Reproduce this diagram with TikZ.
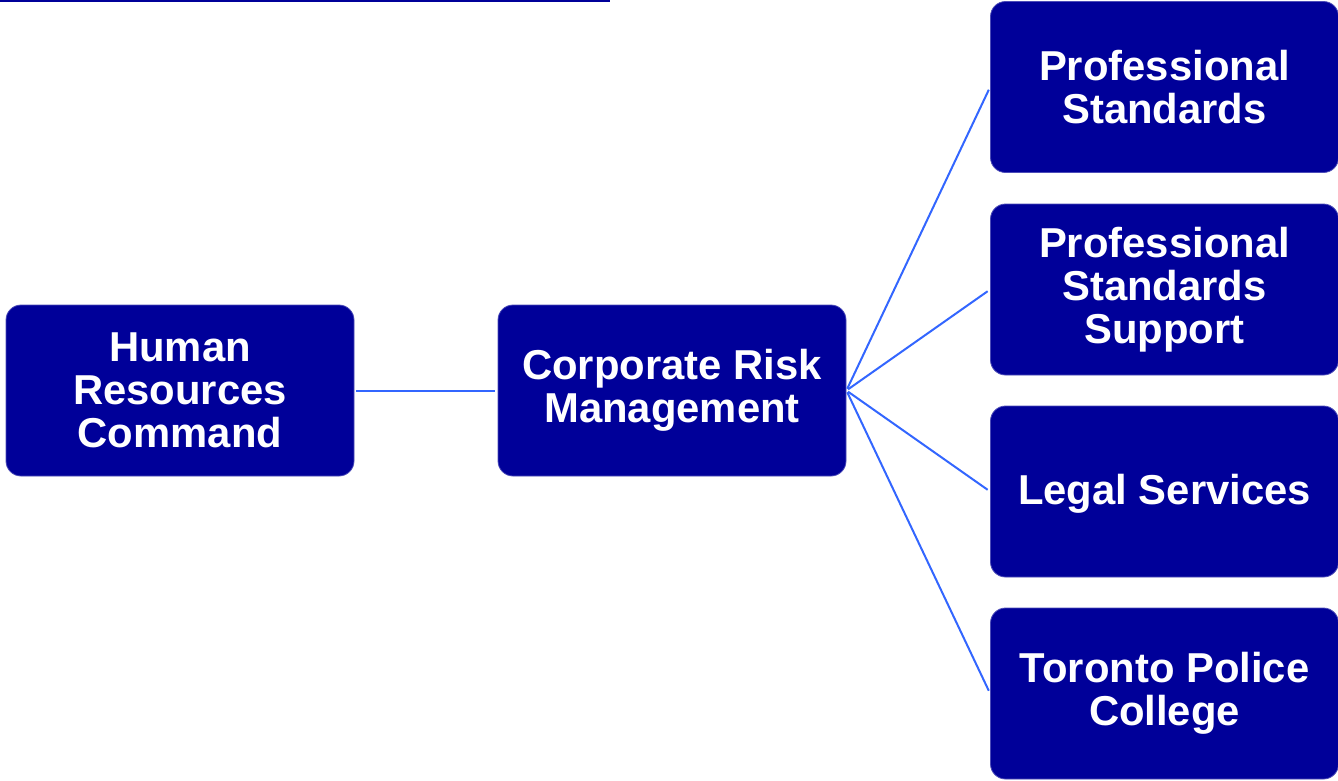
\documentclass[tikz,border=0pt]{standalone}
\usepackage{fontspec}
\setmainfont{Liberation Sans}
\definecolor{boxblue}{RGB}{0,0,153}
\definecolor{linkblue}{RGB}{51,102,255}
\begin{document}
\begin{tikzpicture}[x=1pt,y=-1pt,
  unit/.style={fill=boxblue, draw=boxblue!70!white, line width=0.8pt, rounded corners=15pt,
    minimum width=348pt, minimum height=171pt, inner sep=0pt,
    text=white, align=center, font=\fontsize{41.8}{43}\selectfont\bfseries,
    execute at begin node={\rule{0pt}{35pt}}},
  link/.style={draw=linkblue, line width=2pt, shorten >=3pt, shorten <=2pt},
  rule/.style={draw=boxblue, line width=2.5pt}]
\useasboundingbox (0,0) rectangle (1338,780);
\coordinate (ruleA) at (0,1);
\coordinate (ruleB) at (610,1);
\draw[rule] (ruleA) -- (ruleB);
\node[unit] (hr) at (180,390.5) {Human\\Resources\\Command};
\node[unit] (crm) at (672,390.5) {Corporate Risk\\Management};
\node[unit] (ps) at (1164.5,87) {Professional\\Standards};
\node[unit] (pss) at (1164.5,289.5) {Professional\\Standards\\Support};
\node[unit] (ls) at (1164.5,491.5) {Legal Services};
\node[unit] (tpc) at (1164.5,693.5) {Toronto Police\\College};
\draw[link] (hr.east) -- (crm.west);
\draw[link] (crm.east) -- (ps.west);
\draw[link] (crm.east) -- (pss.west);
\draw[link] (crm.east) -- (ls.west);
\draw[link] (crm.east) -- (tpc.west);
\end{tikzpicture}
\end{document}
